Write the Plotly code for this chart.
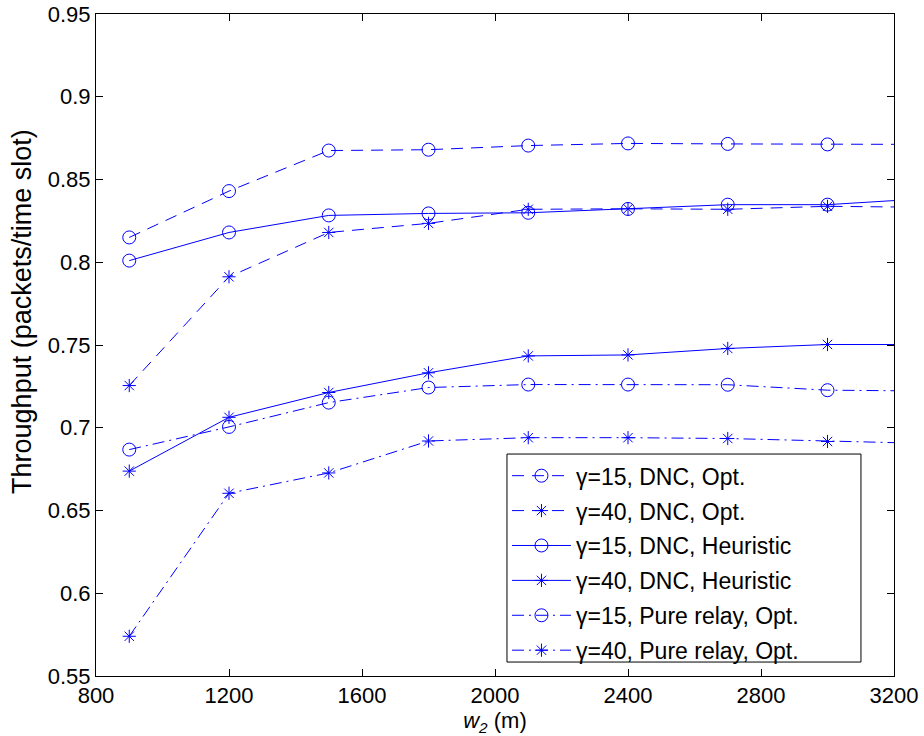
import plotly.graph_objects as go

w2 = [900, 1200, 1500, 1800, 2100, 2400, 2700, 3000, 3300]

g15_dnc_opt = [0.815, 0.843, 0.8675, 0.868, 0.8705, 0.8718, 0.8715, 0.8712, 0.8712]
g40_dnc_opt = [0.7255, 0.7912, 0.818, 0.8235, 0.832, 0.8323, 0.832, 0.8338, 0.8332]
g15_dnc_heu = [0.801, 0.818, 0.8283, 0.8295, 0.8299, 0.8322, 0.8348, 0.8348, 0.8385]
g40_dnc_heu = [0.6738, 0.7063, 0.7213, 0.7332, 0.7434, 0.744, 0.7479, 0.7503, 0.7503]
g15_relay = [0.6868, 0.7005, 0.7152, 0.7243, 0.7261, 0.7261, 0.726, 0.7227, 0.7222]
g40_relay = [0.574, 0.6604, 0.6727, 0.692, 0.694, 0.694, 0.6935, 0.6917, 0.6905]

series_names = [
    "γ=15, DNC, Opt.",
    "γ=40, DNC, Opt.",
    "γ=15, DNC, Heuristic",
    "γ=40, DNC, Heuristic",
    "γ=15, Pure relay, Opt.",
    "γ=40, Pure relay, Opt.",
]
series_values = [g15_dnc_opt, g40_dnc_opt, g15_dnc_heu, g40_dnc_heu, g15_relay, g40_relay]
series_dash = ["12px,8px", "12px,8px", "solid", "solid",
               "12px,5px,2px,5px", "12px,5px,2px,5px"]
series_symbol = ["circle-open", "asterisk-open", "circle-open", "asterisk-open",
                 "circle-open", "asterisk-open"]

x_ticks = [800, 1200, 1600, 2000, 2400, 2800, 3200]
y_ticks = [0.55, 0.6, 0.65, 0.7, 0.75, 0.8, 0.85, 0.9, 0.95]
y_ticktext = ["0.55", "0.6", "0.65", "0.7", "0.75", "0.8", "0.85", "0.9", "0.95"]
y_title = "Throughput (packets/time slot)"
x_title = "<i>w</i><sub><i>2</i></sub> (m)"

BLUE = "#0000FF"
FONT = "Liberation Sans, Arial, Helvetica, sans-serif"

fig = go.Figure()
for i, (name, vals, dash, sym) in enumerate(zip(series_names, series_values, series_dash, series_symbol)):
    fig.add_trace(go.Scatter(
        x=w2, y=vals, name=name, mode="lines+markers",
        legendgroup=f"g{i}",
        line=dict(color=BLUE, width=1, dash=dash),
        marker=dict(symbol=sym, size=13 if "circle" in sym else 11,
                    color=BLUE, line=dict(color=BLUE, width=1)),
    ))

axis_common = dict(
    showline=True, linecolor="black", linewidth=1, mirror="ticks",
    ticks="inside", ticklen=7, tickcolor="black", tickwidth=1,
    showgrid=False, zeroline=False, automargin=False,
    tickfont=dict(family=FONT, size=22, color="black"),
)

fig.update_layout(
    width=924, height=736,
    margin=dict(l=96, r=30, t=14, b=60),
    plot_bgcolor="white", paper_bgcolor="white",
    font=dict(family=FONT, color="black"),
    xaxis=dict(range=[800, 3200], tickvals=x_ticks,
               ticktext=[str(v) for v in x_ticks],
               title=dict(text=x_title, font=dict(size=22), standoff=0),
               **axis_common),
    yaxis=dict(range=[0.55, 0.95], tickvals=y_ticks, ticktext=y_ticktext,
               **axis_common),
    showlegend=True,
    legend=dict(x=0.515, y=0.335, xanchor="left", yanchor="top",
                bgcolor="rgba(0,0,0,0)", borderwidth=0,
                font=dict(family=FONT, size=23, color="black"),
                tracegroupgap=2, itemwidth=59, traceorder="grouped"),
    shapes=[dict(type="rect", xref="paper", yref="paper",
                 x0=0.515, x1=0.9586, y0=0.0211, y1=0.3353,
                 line=dict(color="black", width=1), fillcolor="white", layer="above")],
    annotations=[dict(text=y_title, textangle=-90, xref="paper", yref="paper",
                      x=-0.0927, y=0.55, xanchor="center", yanchor="middle",
                      showarrow=False, font=dict(family=FONT, size=27, color="black"))],
)

fig.write_html("out.html")
